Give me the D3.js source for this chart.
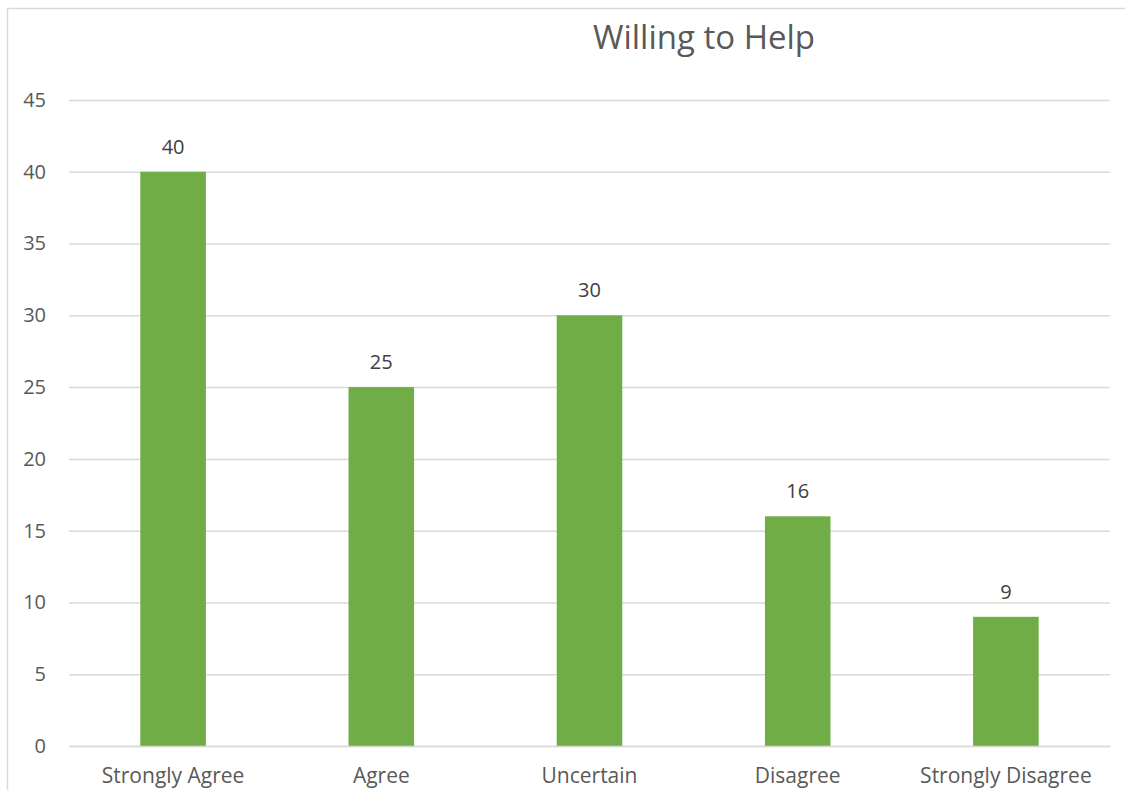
<!DOCTYPE html>
<html>
<head>
<meta charset="utf-8">
<script src="https://cdn.jsdelivr.net/npm/d3@7"></script>
<style>
  html, body { margin: 0; padding: 0; background: #fff; }
  svg { display: block; }
</style>
</head>
<body>
<div id="chart"></div>
<script>
// Survey responses: "Willing to Help"
const categories = ["Strongly Agree", "Agree", "Uncertain", "Disagree", "Strongly Disagree"];
const counts = [40, 25, 30, 16, 9];
const yTicks = [0, 5, 10, 15, 20, 25, 30, 35, 40, 45];
const chartTitle = "Willing to Help";

const W = 1125, H = 790;
const font = "'Open Sans', 'Liberation Sans', sans-serif";
const textColor = "#595959";
const gridColor = "#d9d9d9";
const barColor = "#70ad47";

const plot = { left: 69, right: 1110, top: 100, bottom: 746 };

const svg = d3.select("#chart").append("svg")
  .attr("width", W).attr("height", H);

svg.append("rect").attr("width", W).attr("height", H).attr("fill", "#fff");

// chart frame (extends past the right and bottom edges)
svg.append("rect")
  .attr("x", 7.5).attr("y", 8.5)
  .attr("width", W + 20).attr("height", H + 20)
  .attr("fill", "none").attr("stroke", gridColor).attr("stroke-width", 1.5);

const x = d3.scaleBand()
  .domain(categories)
  .range([plot.left, plot.right])
  .paddingInner(0.685).paddingOuter(0.3425);

const y = d3.scaleLinear()
  .domain([0, 45])
  .range([plot.bottom, plot.top]);

// horizontal gridlines + y labels
const yAxis = d3.axisLeft(y).tickValues(yTicks).tickSize(-(plot.right - plot.left)).tickPadding(23);
const gy = svg.append("g").attr("transform", `translate(${plot.left},0)`).call(yAxis);
gy.select(".domain").remove();
gy.selectAll(".tick line").attr("stroke", gridColor).attr("stroke-width", 1.5);
gy.selectAll(".tick text")
  .attr("fill", textColor).attr("font-family", font).attr("font-size", 20);

// bars
svg.append("g").selectAll("rect").data(counts).join("rect")
  .attr("x", (d, i) => x(categories[i]))
  .attr("y", d => y(d))
  .attr("width", x.bandwidth())
  .attr("height", d => y(0) - y(d))
  .attr("fill", barColor);

// value labels
svg.append("g").selectAll("text").data(counts).join("text")
  .attr("x", (d, i) => x(categories[i]) + x.bandwidth() / 2)
  .attr("y", d => y(d) - 18)
  .attr("text-anchor", "middle")
  .attr("fill", "#404040")
  .attr("font-family", font).attr("font-size", 20)
  .text(d => d);

// category axis
const xAxis = d3.axisBottom(x).tickSize(0).tickPadding(22);
const gx = svg.append("g").attr("transform", `translate(0,${plot.bottom})`).call(xAxis);
gx.select(".domain").attr("stroke", gridColor).attr("stroke-width", 1.5);
gx.selectAll(".tick text")
  .attr("fill", textColor).attr("font-family", font).attr("font-size", 21);

// title
svg.append("text")
  .attr("x", 704).attr("y", 49)
  .attr("text-anchor", "middle")
  .attr("fill", textColor)
  .attr("font-family", font).attr("font-size", 33)
  .text(chartTitle);
</script>
</body>
</html>
